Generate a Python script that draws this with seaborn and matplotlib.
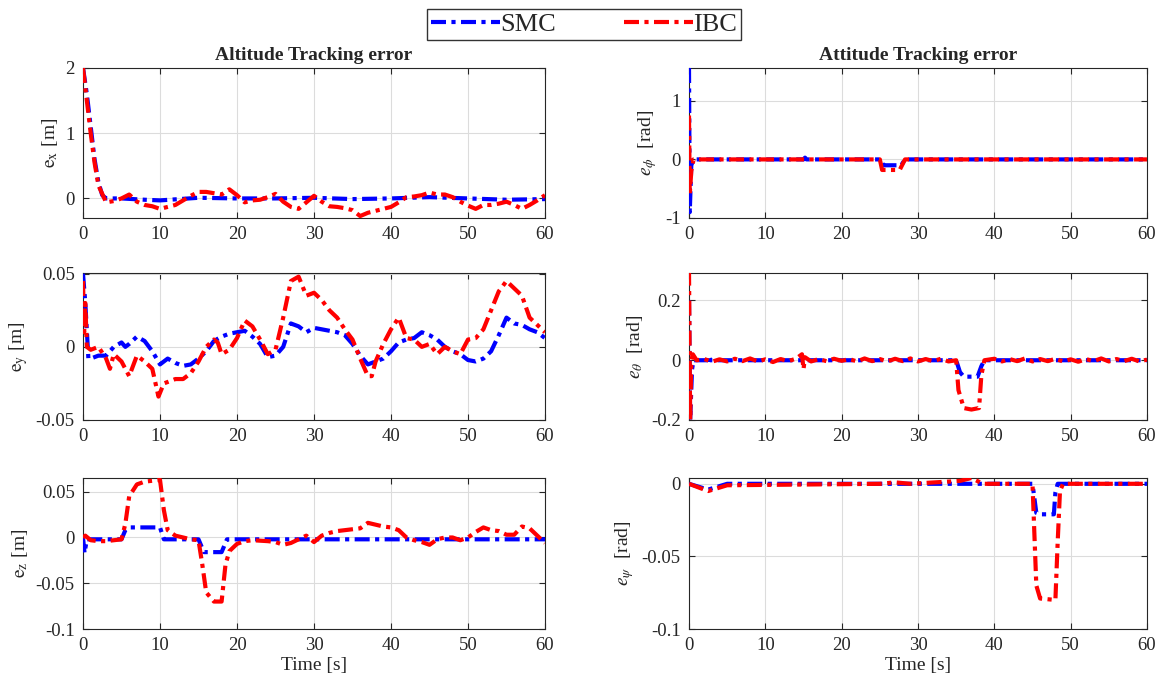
import numpy as np
import pandas as pd
import seaborn as sns
import matplotlib
matplotlib.use("Agg")
import matplotlib.pyplot as plt
from matplotlib.lines import Line2D

# ---------------- data ----------------
series_names = ["SMC", "IBC"]
colors = {"SMC": "#0000ff", "IBC": "#ff0000"}

# e_x
ex_t_smc = [0, 0.5, 1, 1.5, 2, 2.5, 3, 5, 8, 10, 15, 20, 25, 30, 35, 40, 45, 50, 55, 60]
ex_smc = [2.0, 1.6, 1.1, 0.6, 0.25, 0.05, 0.0, 0.0, -0.02, -0.03, 0.01, 0.0, 0.0, 0.01, -0.01, 0.0, 0.02, 0.0, -0.02, -0.01]
ex_t_ibc = [0, 0.5, 1, 1.5, 2, 3, 4, 5, 6, 7, 8, 9, 10, 11, 12, 13, 14, 15, 16, 17, 18, 19, 20,
            21, 22, 23, 24, 25, 26, 27, 28, 29, 30, 31, 32, 33, 34, 35, 36, 37, 38, 39, 40,
            41, 42, 43, 44, 45, 46, 47, 48, 49, 50, 51, 52, 53, 54, 55, 56, 57, 58, 59, 60]
ex_ibc = [2.0, 1.5, 1.0, 0.55, 0.2, -0.06, -0.04, 0.0, 0.06, -0.05, -0.1, -0.12, -0.16, -0.13, -0.1, -0.03, 0.04, 0.1, 0.1, 0.08, 0.06, 0.14, 0.05,
          -0.06, -0.03, -0.02, 0.02, 0.07, -0.05, -0.13, -0.16, -0.06, 0.04, -0.05, -0.12, -0.13, -0.15, -0.18, -0.27, -0.22, -0.19, -0.16, -0.13,
          -0.06, 0.02, 0.03, 0.05, 0.09, 0.06, 0.06, 0.02, -0.05, -0.11, -0.16, -0.1, -0.1, -0.08, -0.05, -0.1, -0.16, -0.1, -0.03, 0.05]

# e_y
ey_t_smc = [0, 0.3, 0.7, 1, 2, 3, 4, 5, 5.5, 6, 7, 8, 9, 10, 11, 12, 13, 14, 15, 16, 17, 18, 19, 20,
            21, 22, 23, 24, 25, 26, 27, 28, 29, 30, 31, 32, 33, 34, 35, 36, 37, 38, 39, 40,
            41, 42, 43, 44, 45, 46, 47, 48, 49, 50, 51, 52, 53, 54, 55, 56, 57, 58, 59, 60]
ey_smc = [0.05, 0.03, -0.008, -0.008, -0.006, -0.006, 0.0, 0.003, 0.0, 0.002, 0.007, 0.004, -0.003, -0.012, -0.008, -0.011, -0.013, -0.012, -0.008, -0.003, 0.004, 0.007, 0.009, 0.01,
          0.011, 0.007, 0.002, -0.007, -0.006, 0.0, 0.016, 0.014, 0.01, 0.013, 0.012, 0.011, 0.01, 0.008, 0.002, -0.006, -0.012, -0.01, -0.008, -0.003,
          0.003, 0.005, 0.006, 0.01, 0.008, 0.005, 0.0, -0.003, -0.005, -0.009, -0.01, -0.008, -0.003, 0.008, 0.02, 0.016, 0.015, 0.012, 0.01, 0.006]
ey_t_ibc = [0, 0.15, 0.3, 0.5, 1, 2, 3, 3.5, 4, 5, 6, 7, 8, 9, 9.8, 10.5, 11, 12, 13, 14, 15, 16, 17, 17.5, 18, 19, 20,
            21, 22, 23, 24, 25, 26, 27, 28, 29, 30, 31, 32, 33, 34, 35, 36, 37, 37.5, 38, 39, 40,
            41, 42, 43, 44, 45, 46, 47, 48, 49, 50, 51, 52, 53, 54, 55, 56, 57, 58, 59, 60]
ey_ibc = [0.045, 0.01, 0.03, 0.0, -0.002, 0.0, -0.008, -0.015, -0.005, -0.01, -0.02, -0.006, -0.01, -0.015, -0.034, -0.025, -0.024, -0.022, -0.022, -0.018, -0.01, 0.0, 0.005, 0.003, -0.005, -0.002, 0.006,
          0.018, 0.014, 0.005, -0.005, -0.002, 0.02, 0.045, 0.048, 0.035, 0.037, 0.032, 0.025, 0.02, 0.012, 0.005, -0.008, -0.02, -0.02, -0.01, 0.002, 0.012,
          0.02, 0.006, 0.005, 0.0, 0.002, -0.005, 0.0, -0.003, -0.005, 0.005, 0.006, 0.012, 0.025, 0.038, 0.045, 0.04, 0.035, 0.02, 0.015, 0.01]

# e_z
ez_t_smc = [0, 0.2, 0.5, 5, 5.5, 6, 10, 10.5, 15, 15.7, 18, 18.7, 60]
ez_smc = [0.0, -0.017, -0.002, -0.002, 0.008, 0.011, 0.011, -0.002, -0.002, -0.016, -0.016, -0.002, -0.002]
ez_t_ibc = [0, 0.3, 1, 2, 3, 4, 5, 5.5, 6, 7, 8, 9, 10, 10.5, 11, 12, 13, 14, 15, 15.5, 16, 17, 18, 18.5, 19, 20,
            21, 22, 24, 25, 26, 27, 28, 29, 30, 31, 32, 33, 34, 35, 36, 37, 38, 39, 40,
            41, 42, 43, 44, 45, 46, 47, 48, 49, 50, 51, 52, 53, 54, 55, 56, 57, 58, 59, 60]
ez_ibc = [0.0, 0.002, -0.003, -0.004, -0.004, -0.003, -0.002, 0.015, 0.045, 0.058, 0.061, 0.062, 0.063, 0.03, 0.008, 0.002, 0.0, -0.002, -0.003, -0.03, -0.06, -0.07, -0.07, -0.03, -0.015, -0.007,
          -0.004, -0.003, -0.004, -0.005, -0.008, -0.006, -0.002, 0.002, -0.005, 0.002, 0.005, 0.007, 0.008, 0.009, 0.01, 0.016, 0.014, 0.012, 0.011,
          0.008, 0.0, -0.003, -0.005, -0.008, -0.002, 0.0, 0.0, -0.003, 0.0, 0.006, 0.011, 0.008, 0.007, 0.003, 0.003, 0.012, 0.01, 0.002, -0.006]

# e_phi
ephi_t_smc = [0, 0.1, 0.3, 0.6, 15, 15.2, 15.4, 25, 25.5, 27.8, 28.3, 60]
ephi_smc = [1.56, -0.9, -0.1, 0.0, 0.0, 0.03, 0.0, 0.0, -0.1, -0.1, 0.0, 0.0]
ephi_t_ibc = [0, 0.1, 0.3, 0.6, 25, 25.3, 27.6, 28.3, 60]
ephi_ibc = [0.75, -0.6, -0.2, 0.0, 0.0, -0.18, -0.18, 0.0, 0.0]

# e_theta
eth_t_smc = [0, 0.15, 0.4, 0.6, 2.4, 2.6, 2.8, 35, 35.5, 36, 37.8, 38.3, 38.7, 60]
eth_smc = [0.2, -0.2, -0.03, 0.0, 0.0, 0.015, 0.0, 0.0, -0.04, -0.055, -0.055, -0.02, 0.0, 0.0]
eth_t_ibc = [0, 0.15, 0.3, 0.5, 1, 2, 3, 4, 5, 6, 7, 8, 9, 10, 11, 12, 13, 14, 14.8, 15, 15.2, 16, 17, 18, 19, 20,
             21, 22, 23, 24, 25, 26, 27, 28, 29, 30, 31, 32, 33, 34, 35, 35.3, 36, 37, 38, 38.3, 38.7,
             40, 41, 42, 43, 44, 45, 46, 47, 48, 49, 50, 51, 52, 53, 54, 55, 56, 57, 58, 59, 60]
eth_ibc = [0.3, -0.2, 0.0, 0.02, 0.0, 0.004, -0.005, 0.003, -0.004, 0.005, -0.003, 0.006, -0.004, 0.003, -0.006, 0.004, -0.003, 0.005, 0.02, -0.03, 0.01, -0.004, 0.004, -0.003, 0.005, -0.002,
           0.004, -0.004, 0.006, -0.003, 0.004, -0.004, 0.005, -0.003, 0.006, -0.004, 0.004, -0.003, 0.005, -0.004, 0.0, -0.1, -0.16, -0.165, -0.16, -0.05, 0.0,
           0.005, -0.004, 0.004, -0.003, 0.006, -0.004, 0.004, -0.003, 0.005, -0.004, 0.003, -0.005, 0.004, -0.003, 0.006, -0.004, 0.004, -0.003, 0.005, -0.004, 0.002]

# e_psi
epsi_t_smc = [0, 2.5, 5, 45, 45.5, 46, 47.8, 48, 48.3, 60]
epsi_smc = [0.0, -0.004, 0.0, 0.0, -0.02, -0.021, -0.021, -0.006, 0.0, 0.0]
epsi_t_ibc = [0, 2.5, 5, 25, 27, 29, 35.5, 37, 38.5, 45, 45.5, 46, 48, 48.3, 48.6, 49, 60]
epsi_ibc = [0.0, -0.005, -0.001, 0.0, 0.001, 0.0, 0.002, 0.004, 0.0, 0.0, -0.07, -0.079, -0.08, -0.04, -0.005, 0.0, 0.0]

x_ticks = [0, 10, 20, 30, 40, 50, 60]

# ---------------- style ----------------
sns.set_theme(style="ticks")
plt.rcParams["font.family"] = ["Liberation Serif", "DejaVu Serif"]
plt.rcParams["mathtext.fontset"] = "stix"
plt.rcParams["axes.unicode_minus"] = False

W, H = 1168, 684
fig = plt.figure(figsize=(W / 100, H / 100), dpi=100)

def frac_axes(left, right, top, bottom):
    return fig.add_axes([left / W, 1 - bottom / H, (right - left) / W, (bottom - top) / H])

rows = [(68, 218), (273, 420), (478, 629)]
cols = [(83, 545), (689, 1147)]

dash = (0, (3.6, 1.3, 1.0, 1.3))
LW = 3.0

panels = [
    # (col,row, t_smc, smc, t_ibc, ibc, ylim, yticks, yticklabels, ylabel)
    (0, 0, ex_t_smc, ex_smc, ex_t_ibc, ex_ibc, (-0.3, 2.0), [0, 1, 2], ["0", "1", "2"], r"$\mathrm{e_x}$ [m]"),
    (0, 1, ey_t_smc, ey_smc, ey_t_ibc, ey_ibc, (-0.05, 0.0505), [-0.05, 0, 0.05], ["-0.05", "0", "0.05"], r"$\mathrm{e_y}$ [m]"),
    (0, 2, ez_t_smc, ez_smc, ez_t_ibc, ez_ibc, (-0.1, 0.065), [-0.1, -0.05, 0, 0.05], ["-0.1", "-0.05", "0", "0.05"], r"$\mathrm{e_z}$ [m]"),
    (1, 0, ephi_t_smc, ephi_smc, ephi_t_ibc, ephi_ibc, (-1.0, 1.56), [-1, 0, 1], ["-1", "0", "1"], r"$e_\phi$  [rad]"),
    (1, 1, eth_t_smc, eth_smc, eth_t_ibc, eth_ibc, (-0.2, 0.292), [-0.2, 0, 0.2], ["-0.2", "0", "0.2"], r"$e_\theta$  [rad]"),
    (1, 2, epsi_t_smc, epsi_smc, epsi_t_ibc, epsi_ibc, (-0.1, 0.004), [-0.1, -0.05, 0], ["-0.1", "-0.05", "0"], r"$e_\psi$  [rad]"),
]

axes = {}
for c, r, ts, ys, ti, yi, ylim, yt, ytl, ylab in panels:
    ax = frac_axes(cols[c][0], cols[c][1], rows[r][0], rows[r][1])
    axes[(c, r)] = ax
    df_s = pd.DataFrame({"t": ts, "v": ys})
    df_i = pd.DataFrame({"t": ti, "v": yi})
    sns.lineplot(data=df_s, x="t", y="v", ax=ax, color=colors["SMC"], linewidth=LW,
                 linestyle=dash, estimator=None, sort=False, zorder=3)
    sns.lineplot(data=df_i, x="t", y="v", ax=ax, color=colors["IBC"], linewidth=LW,
                 linestyle=dash, estimator=None, sort=False, zorder=4)
    ax.set_xlim(0, 60)
    ax.set_ylim(*ylim)
    ax.set_xticks(x_ticks)
    ax.set_xticklabels([str(v) for v in x_ticks])
    ax.set_yticks(yt)
    ax.set_yticklabels(ytl)
    ax.grid(True, color="#dcdcdc", linewidth=0.8)
    ax.set_axisbelow(True)
    for sp in ax.spines.values():
        sp.set_color("#262626")
        sp.set_linewidth(0.8)
        sp.set_visible(True)
    ax.tick_params(direction="in", length=4, width=0.8, top=True, right=True,
                   labelsize=13.5, colors="#262626", pad=6)
    ax.set_ylabel(ylab, fontsize=14, color="#262626", labelpad=4)
    ax.set_xlabel("Time [s]" if r == 2 else "", fontsize=14, color="#262626", labelpad=2)

axes[(0, 0)].set_title("Altitude Tracking error", fontsize=14, fontweight="bold", pad=6)
axes[(1, 0)].set_title("Attitude Tracking error", fontsize=14, fontweight="bold", pad=6)

handles = [Line2D([], [], color=colors[n], linewidth=LW, linestyle=dash) for n in series_names]
leg = fig.legend(handles, series_names, loc="upper center", bbox_to_anchor=(0.5, 0.995),
                 ncol=2, frameon=True, fancybox=False, edgecolor="black", fontsize=19,
                 handlelength=2.6, handletextpad=0.0, columnspacing=2.6, borderpad=0.15,
                 borderaxespad=0.2)
leg.get_frame().set_linewidth(1.0)

fig.savefig("out.png", dpi=100)
